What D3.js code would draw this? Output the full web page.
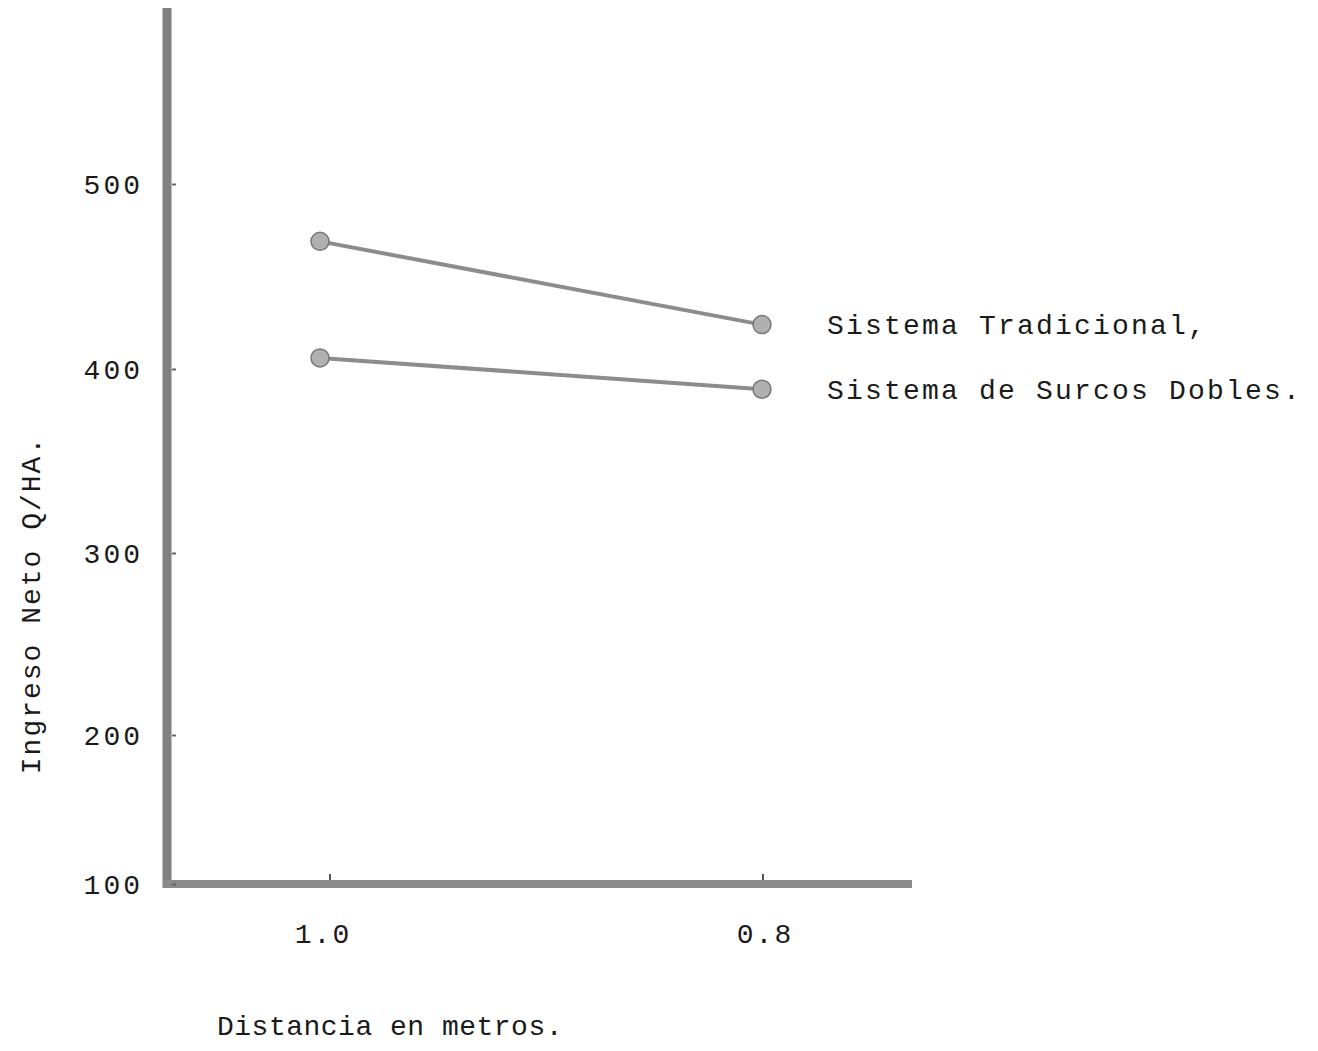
<!DOCTYPE html>
<html>
<head>
<meta charset="utf-8">
<script src="https://cdn.jsdelivr.net/npm/d3@7"></script>
<style>
  body { margin: 0; background: #fff; }
  text { font-family: "Liberation Mono", "DejaVu Sans Mono", monospace; fill: #1a1a1a; }
</style>
</head>
<body>
<div id="chart"></div>
<script>
var width = 1318, height = 1051;

// data
var distances = [1.0, 0.8];
var xTickLabels = ['1.0', '0.8'];
var yTicks = [100, 200, 300, 400, 500];
var tradicional = [469, 424];
var surcosDobles = [406, 389];
var seriesNames = ['Sistema Tradicional,', 'Sistema de Surcos Dobles.'];

var svg = d3.select('#chart').append('svg')
  .attr('width', width)
  .attr('height', height);

// hand drawn scale, spacing is not quite even on the sheet
var y = d3.scaleLinear()
  .domain([100, 200, 300, 400, 500])
  .range([884, 735, 553, 369, 184]);

var x = d3.scaleLinear()
  .domain([1.0, 0.8])
  .range([320, 762]);

// axis lines (longer than the data range)
svg.append('line')
  .attr('x1', 167).attr('x2', 167)
  .attr('y1', 8).attr('y2', 888)
  .attr('stroke', '#808080')
  .attr('stroke-width', 9);

svg.append('line')
  .attr('x1', 163).attr('x2', 912)
  .attr('y1', 884).attr('y2', 884)
  .attr('stroke', '#8a8a8a')
  .attr('stroke-width', 8);

// y ticks and labels
var yAxis = svg.append('g')
  .attr('transform', 'translate(172,0)')
  .call(d3.axisRight(y).tickValues(yTicks).tickSize(4).tickFormat(''));
yAxis.select('.domain').remove();
yAxis.selectAll('line').attr('stroke', '#666').attr('stroke-width', 2);

svg.append('g').selectAll('text')
  .data(yTicks)
  .enter().append('text')
  .attr('x', 143)
  .attr('y', d => y(d))
  .attr('dy', '0.35em')
  .attr('text-anchor', 'end')
  .style('font-size', '28px')
  .style('letter-spacing', '3px')
  .text(d => d);

// x ticks and labels
var xAxis = svg.append('g')
  .attr('transform', 'translate(0,880)')
  .call(d3.axisTop(x).tickValues(distances).tickSize(6).tickFormat(''));
xAxis.select('.domain').remove();
xAxis.selectAll('.tick').attr('transform', (d, i) => 'translate(' + [330, 763][i] + ',0)');
xAxis.selectAll('line').attr('stroke', '#555').attr('stroke-width', 2);

svg.append('g').selectAll('text')
  .data(distances)
  .enter().append('text')
  .attr('x', d => x(d) + 3)
  .attr('y', 943)
  .attr('text-anchor', 'middle')
  .style('font-size', '28px')
  .style('letter-spacing', '2px')
  .text((d, i) => xTickLabels[i]);

// series
var series = [tradicional, surcosDobles];
var line = d3.line()
  .x((d, i) => x(distances[i]))
  .y(d => y(d));

var g = svg.append('g');
g.selectAll('path')
  .data(series)
  .enter().append('path')
  .attr('d', line)
  .attr('fill', 'none')
  .attr('stroke', '#8c8c8c')
  .attr('stroke-width', 4);

series.forEach(function(s) {
  g.selectAll(null)
    .data(s)
    .enter().append('circle')
    .attr('cx', (d, i) => x(distances[i]))
    .attr('cy', d => y(d))
    .attr('r', 9)
    .attr('fill', '#b0b0b0')
    .attr('stroke', '#777')
    .attr('stroke-width', 1.5);
});

// series labels
svg.append('g').selectAll('text')
  .data(seriesNames)
  .enter().append('text')
  .attr('x', 827)
  .attr('y', (d, i) => y(series[i][1]))
  .attr('dy', '0.35em')
  .style('font-size', '28px')
  .style('letter-spacing', '2.2px')
  .text(d => d);

// axis titles
svg.append('text')
  .attr('transform', 'translate(40,605) rotate(-90)')
  .attr('text-anchor', 'middle')
  .style('font-size', '28px')
  .style('letter-spacing', '2px')
  .text('Ingreso Neto Q/HA.');

svg.append('text')
  .attr('x', 390)
  .attr('y', 1035)
  .attr('text-anchor', 'middle')
  .style('font-size', '28px')
  .style('letter-spacing', '0.5px')
  .text('Distancia en metros.');
</script>
</body>
</html>
